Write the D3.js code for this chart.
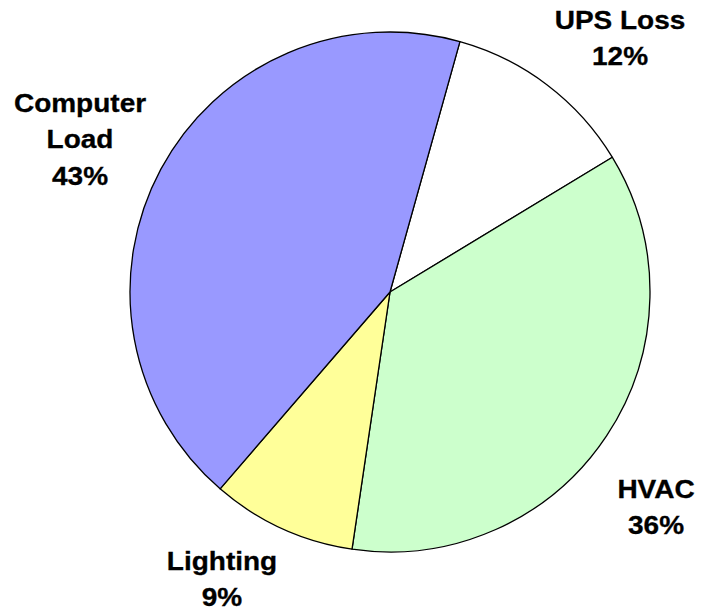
<!DOCTYPE html>
<html>
<head>
<meta charset="utf-8">
<script src="https://cdn.jsdelivr.net/npm/d3@7"></script>
<style>
	body { margin: 0; background: #fff; }
	svg { display: block; }
	.lbl { font-family: "Liberation Sans", Arial, sans-serif; font-weight: bold; font-size: 25px; fill: #000; stroke: #000; stroke-width: 0.3px; }
</style>
</head>
<body>
<svg id="chart" width="701" height="611"></svg>
<script>
var categories = ["UPS Loss", "HVAC", "Lighting", "Computer Load"];
var shares = [12, 36, 9, 43];
var sliceColors = ["#FFFFFF", "#CCFFCC", "#FFFF99", "#9999FF"];

// label lines + where Excel dropped each label block (center x, first baseline y)
var labelLines = [["UPS Loss"], ["HVAC"], ["Lighting"], ["Computer", "Load"]];
var labelSpots = [[620, 29], [656, 498], [222, 570], [80, 112]];

var width = 701, height = 611,
	cx = 390, cy = 292, radius = 260,
	lineHeight = 36.5,
	stretch = 1.12; // the original text is a bit wider than plain Arial bold

var svg = d3.select("#chart");

var pie = d3.pie()
	.sort(null)
	.startAngle(15.6 * Math.PI / 180)
	.endAngle(15.6 * Math.PI / 180 + 2 * Math.PI)
	.value(function(d) { return d; });

var arc = d3.arc()
	.innerRadius(0)
	.outerRadius(radius);

var g = svg.append("g")
	.attr("transform", "translate(" + cx + "," + cy + ")");

g.selectAll("path")
	.data(pie(shares))
	.enter().append("path")
	.attr("d", arc)
	.style("fill", function(d, i) { return sliceColors[i]; })
	.style("stroke", "#000")
	.style("stroke-width", 1.3)
	.style("stroke-linejoin", "round");

// labels: name lines then the percent
categories.forEach(function(name, i) {
	var lines = labelLines[i].concat([shares[i] + "%"]);
	var t = svg.append("g")
		.attr("transform", "translate(" + labelSpots[i][0] + "," + labelSpots[i][1] + ") scale(" + stretch + ",1)")
		.append("text")
		.attr("class", "lbl")
		.attr("text-anchor", "middle");
	lines.forEach(function(line, j) {
		t.append("tspan")
			.attr("x", 0)
			.attr("y", j * lineHeight)
			.text(line);
	});
});
</script>
</body>
</html>
